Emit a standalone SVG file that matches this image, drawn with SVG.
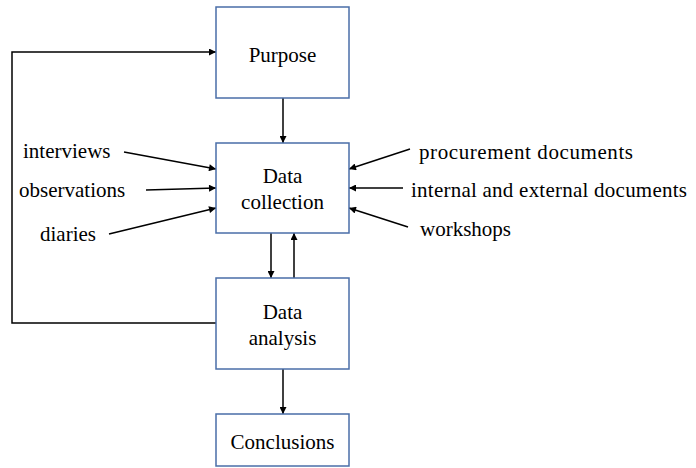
<svg xmlns="http://www.w3.org/2000/svg" width="696" height="468" viewBox="0 0 696 468">
<defs>
<marker id="ah" viewBox="0 0 10 10" refX="10" refY="5" markerWidth="8" markerHeight="7" markerUnits="userSpaceOnUse" orient="auto">
<path d="M0,0 L10,5 L0,10 z" fill="#000"/>
</marker>
</defs>
<style>
.box{fill:#fff;stroke:#4a6ea8;stroke-width:1.5}
.ln{fill:none;stroke:#000;stroke-width:1.5;marker-end:url(#ah)}
.c{text-anchor:middle}
</style>
<rect width="696" height="468" fill="#fff"/>
<g id="connectors">
<line class="ln" x1="283" y1="98" x2="283" y2="143"/>
<line class="ln" x1="271" y1="233" x2="271" y2="278"/>
<line class="ln" x1="294" y1="278" x2="294" y2="233"/>
<line class="ln" x1="283" y1="369" x2="283" y2="414"/>
<polyline class="ln" points="216,323 12,323 12,52 216,52"/>
<line class="ln" x1="124" y1="152" x2="216" y2="169"/>
<line class="ln" x1="146" y1="190" x2="216" y2="188"/>
<line class="ln" x1="109" y1="234" x2="216" y2="208"/>
<line class="ln" x1="410" y1="149" x2="349" y2="169"/>
<line class="ln" x1="403" y1="188" x2="349" y2="188"/>
<line class="ln" x1="408" y1="227" x2="349" y2="208"/>
</g>
<g font-family="Liberation Serif, Times New Roman, serif" font-size="21" fill="#000">
<g id="purpose">
<rect class="box" x="216" y="7" width="133" height="91"/>
<text class="c" x="282.5" y="62">Purpose</text>
</g>
<g id="data-collection">
<rect class="box" x="216" y="143" width="133" height="90"/>
<text class="c" x="282.5" y="183">Data</text>
<text class="c" x="282.5" y="209">collection</text>
</g>
<g id="data-analysis">
<rect class="box" x="216" y="278" width="133" height="91"/>
<text class="c" x="282.5" y="319">Data</text>
<text class="c" x="282.5" y="345">analysis</text>
</g>
<g id="conclusions">
<rect class="box" x="216" y="414" width="133" height="52"/>
<text class="c" x="282.5" y="449">Conclusions</text>
</g>
<g id="inputs-left">
<text x="23" y="158">interviews</text>
<text x="19" y="197">observations</text>
<text x="40" y="241">diaries</text>
</g>
<g id="inputs-right">
<text x="419" y="159" textLength="214" lengthAdjust="spacing">procurement documents</text>
<text x="411" y="197" textLength="276" lengthAdjust="spacing">internal and external documents</text>
<text x="420" y="236">workshops</text>
</g>
</g>
</svg>
